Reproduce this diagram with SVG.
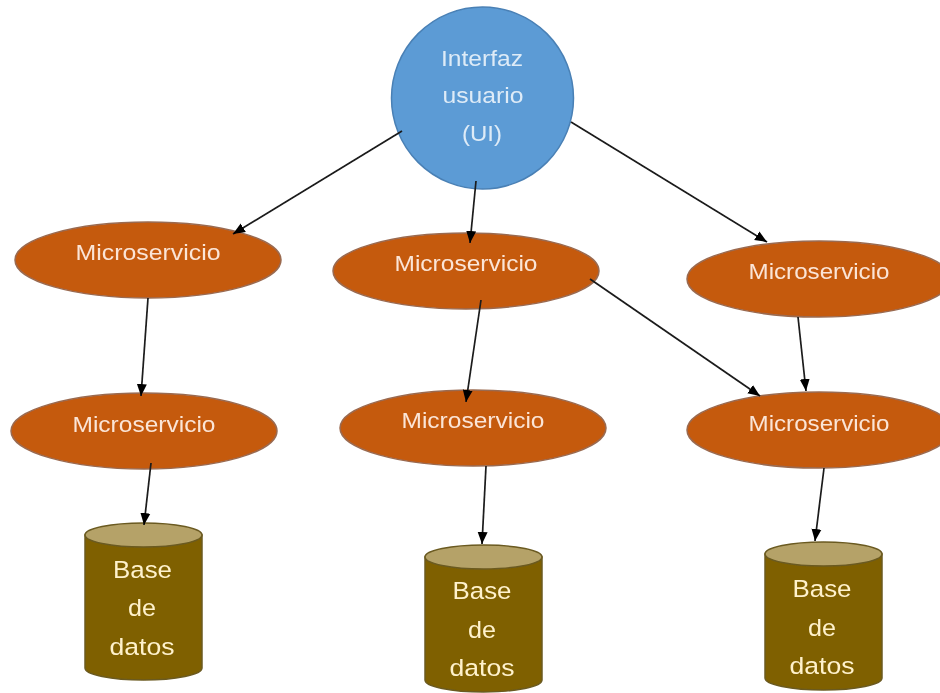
<svg xmlns="http://www.w3.org/2000/svg" width="940" height="693" viewBox="0 0 940 693">
<style>
text{font-family:"Liberation Sans",Arial,sans-serif;text-anchor:middle}
.ms ellipse{fill:#c55a11;stroke:#9a6a50;stroke-width:1.5}
.ms text{fill:#fbe5d6;font-size:21.5px}
.db .b{fill:#7f6000;stroke:#6b5a20;stroke-width:1.5}
.db .t{fill:#b5a268;stroke:#6b5a20;stroke-width:1.5}
.db text{fill:#fff2cc;font-size:24.5px}
.ui circle{fill:#5b9bd5;stroke:#4a80b5;stroke-width:1.5}
.ui text{fill:#deebf7;font-size:22px}
#connectors line{stroke:#1a1a1a;stroke-width:1.7;marker-end:url(#a)}
#all{filter:url(#soft)}
</style>
<defs>
<filter id="soft" filterUnits="userSpaceOnUse" x="0" y="0" width="940" height="693"><feGaussianBlur stdDeviation="0.55"/></filter>
<marker id="a" markerUnits="userSpaceOnUse" markerWidth="14" markerHeight="14" refX="12" refY="6" orient="auto"><path d="M0 1L12 6L0 11Z" fill="#000"/></marker>
</defs>
<rect width="940" height="693" fill="#fff"/>
<g id="all">
<g id="n-ui" class="ui"><circle cx="482.500" cy="98" r="91"/>
<text x="482" y="66" textLength="82" lengthAdjust="spacingAndGlyphs">Interfaz</text><text x="483" y="103" textLength="81" lengthAdjust="spacingAndGlyphs">usuario</text><text x="482" y="141" textLength="40" lengthAdjust="spacingAndGlyphs">(UI)</text></g>
<g id="n-ms1" class="ms"><ellipse cx="148" cy="260" rx="133" ry="38"/><text x="148" y="260" textLength="145" lengthAdjust="spacingAndGlyphs">Microservicio</text></g>
<g id="n-ms2" class="ms"><ellipse cx="466" cy="271" rx="133" ry="38"/><text x="466" y="271" textLength="143" lengthAdjust="spacingAndGlyphs">Microservicio</text></g>
<g id="n-ms3" class="ms"><ellipse cx="819" cy="279" rx="132" ry="38"/><text x="819" y="279" textLength="141" lengthAdjust="spacingAndGlyphs">Microservicio</text></g>
<g id="n-ms4" class="ms"><ellipse cx="144" cy="431" rx="133" ry="38"/><text x="144" y="432" textLength="143" lengthAdjust="spacingAndGlyphs">Microservicio</text></g>
<g id="n-ms5" class="ms"><ellipse cx="473" cy="428" rx="133" ry="38"/><text x="473" y="428" textLength="143" lengthAdjust="spacingAndGlyphs">Microservicio</text></g>
<g id="n-ms6" class="ms"><ellipse cx="819" cy="430" rx="132" ry="38"/><text x="819" y="431" textLength="141" lengthAdjust="spacingAndGlyphs">Microservicio</text></g>
<g id="n-db1" class="db"><path class="b" d="M85 535V668A58 12 0 0 0 202 668V535Z"/><ellipse class="t" cx="143.500" cy="535" rx="58.500" ry="12"/>
<text x="142.500" y="578" textLength="59" lengthAdjust="spacingAndGlyphs">Base</text><text x="142" y="616" textLength="28" lengthAdjust="spacingAndGlyphs">de</text><text x="142" y="655" textLength="65" lengthAdjust="spacingAndGlyphs">datos</text></g>
<g id="n-db2" class="db"><path class="b" d="M425 557V680A58 12 0 0 0 542 680V557Z"/><ellipse class="t" cx="483.500" cy="557" rx="58.500" ry="12"/>
<text x="482" y="599" textLength="59" lengthAdjust="spacingAndGlyphs">Base</text><text x="482" y="638" textLength="28" lengthAdjust="spacingAndGlyphs">de</text><text x="482" y="676" textLength="65" lengthAdjust="spacingAndGlyphs">datos</text></g>
<g id="n-db3" class="db"><path class="b" d="M765 554V678A58 12 0 0 0 882 678V554Z"/><ellipse class="t" cx="823.500" cy="554" rx="58.500" ry="12"/>
<text x="822" y="597" textLength="59" lengthAdjust="spacingAndGlyphs">Base</text><text x="822" y="636" textLength="28" lengthAdjust="spacingAndGlyphs">de</text><text x="822" y="674" textLength="65" lengthAdjust="spacingAndGlyphs">datos</text></g>
<g id="connectors">
<line x1="402" y1="131" x2="233" y2="234"/>
<line x1="476" y1="181" x2="470" y2="243"/>
<line x1="571" y1="122" x2="767" y2="242"/>
<line x1="148" y1="298" x2="141" y2="396"/>
<line x1="481" y1="300" x2="466" y2="402"/>
<line x1="798" y1="317" x2="806" y2="391"/>
<line x1="590" y1="279" x2="760" y2="396"/>
<line x1="151" y1="463" x2="144" y2="525"/>
<line x1="486" y1="466" x2="482" y2="544"/>
<line x1="824" y1="468" x2="815" y2="541"/>
</g>
</g>
</svg>
